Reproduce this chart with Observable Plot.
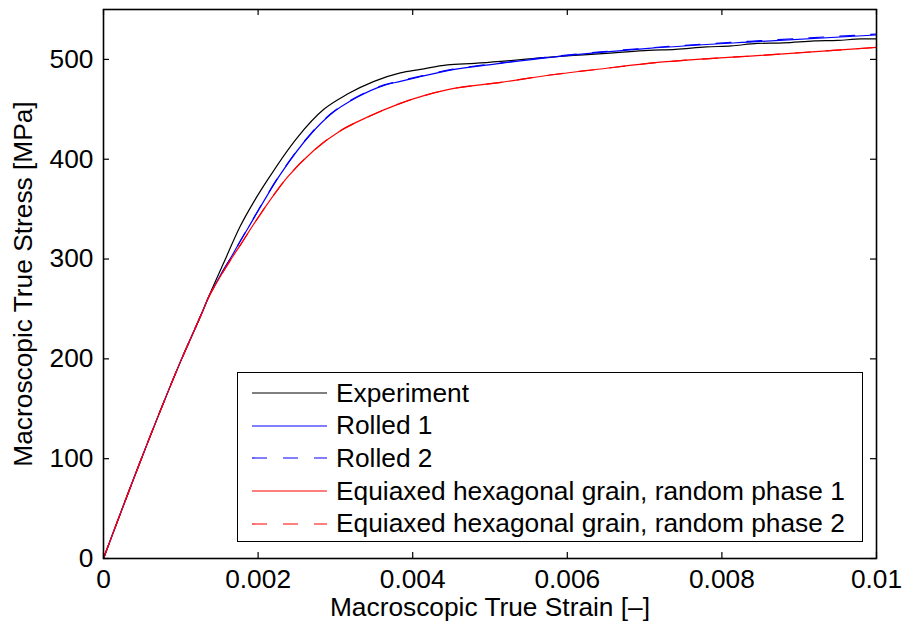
<!DOCTYPE html>
<html>
<head>
<meta charset="utf-8">
<script src="https://cdn.jsdelivr.net/npm/d3@7"></script>
<script src="https://cdn.jsdelivr.net/npm/@observablehq/plot@0.6"></script>
<style>
  html, body { margin: 0; padding: 0; background: #fff; }
  #wrap { position: relative; width: 904px; height: 632px; font-family: "Liberation Sans", Arial, Helvetica, sans-serif; }
  #legend { position: absolute; left: 237px; top: 372px; width: 624px; height: 168px; border: 1.5px solid #000; background: #fff; }
  .row { position: absolute; left: 0; height: 32px; display: flex; align-items: center; font-size: 26.3px; color: #000; white-space: nowrap; }
  .row svg { margin-left: 14px; margin-right: 9px; }
</style>
</head>
<body>
<div id="wrap"></div>
<script>
// ---- data ----
const seriesNames = ["Experiment", "Rolled 1", "Rolled 2",
  "Equiaxed hexagonal grain, random phase 1", "Equiaxed hexagonal grain, random phase 2"];
const seriesColors = ["#000000", "#0000ff", "#0000ff", "#ff0000", "#ff0000"];
const seriesDash = [null, null, "15,16", null, "15,16"];

const expStrain = [0, 0.0005, 0.001, 0.0013, 0.00134, 0.00156, 0.00177, 0.00195, 0.00212, 0.00251, 0.00285, 0.00315, 0.0035, 0.00384,
  0.0041, 0.00445, 0.0048, 0.00514, 0.0055, 0.0059, 0.00621, 0.0066, 0.00705, 0.0074, 0.0078, 0.00812, 0.00846,
  0.0088, 0.0092, 0.0095, 0.0098, 0.01];
const expStress = [0, 102, 198, 251, 258.5, 297, 333, 358, 379, 422, 450, 465, 478, 486.5,
  490, 494.5, 496, 498, 500.5, 503, 504.5, 506.5, 509, 510, 512.5, 513.5, 516,
  516.5, 518.5, 519, 520.5, 520.5];

const rolled1Strain = [0, 0.0005, 0.001, 0.0013, 0.00134, 0.0015, 0.00166, 0.00177, 0.0019, 0.00229, 0.00268, 0.00294, 0.00328, 0.00363,
  0.00384, 0.00406, 0.00447, 0.00514, 0.00578, 0.00643, 0.00705, 0.0085, 0.01];
const rolled1Stress = [0, 102, 198, 251, 258.5, 282, 303, 318, 335, 385, 425, 445, 462, 474,
  478, 482, 489, 496, 502, 507, 511, 518, 524.5];

const rolled2Strain = [0, 0.0005, 0.001, 0.0013, 0.00134, 0.0015, 0.00166, 0.00177, 0.0019, 0.00229, 0.00268, 0.00294, 0.00328, 0.00363,
  0.00384, 0.00406, 0.00447, 0.00514, 0.00578, 0.00643, 0.00705, 0.0085, 0.01];
const rolled2Stress = [0, 102, 198, 251, 258.5, 282, 303, 318, 335.5, 385.5, 425.5, 445.5, 462.5, 474.5,
  478.5, 482.5, 489.5, 496.5, 502.5, 507.5, 511.5, 518.8, 525.3];

const equi1Strain = [0, 0.0005, 0.001, 0.0013, 0.00134, 0.0015, 0.00166, 0.00177, 0.00197, 0.00238, 0.00272, 0.00307, 0.00341, 0.00384,
  0.00447, 0.00514, 0.00578, 0.00643, 0.00705, 0.0085, 0.01];
const equi1Stress = [0, 102, 198, 251, 258.5, 281, 301, 314, 338, 382, 408.7, 428.7, 442, 456,
  470, 477, 484.4, 490.4, 496, 504, 512];

const equi2Strain = [0, 0.0005, 0.001, 0.0013, 0.00134, 0.0015, 0.00166, 0.00177, 0.00197, 0.00238, 0.00272, 0.00307, 0.00341, 0.00384,
  0.00447, 0.00514, 0.00578, 0.00643, 0.00705, 0.0085, 0.01];
const equi2Stress = [0, 102, 198, 251, 258.5, 281, 301, 314, 338, 382, 408.7, 428.7, 442, 456,
  470, 477, 484.4, 490.4, 496, 504, 512];

const xTicks = [0, 0.002, 0.004, 0.006, 0.008, 0.01];
const xTickLabels = ["0", "0.002", "0.004", "0.006", "0.008", "0.01"];
const yTicks = [0, 100, 200, 300, 400, 500];
const yTickLabels = ["0", "100", "200", "300", "400", "500"];
const xLabel = "Macroscopic True Strain [\u2013]";
const yLabel = "Macroscopic True Stress [MPa]";

// ---- build table ----
const strains = [expStrain, rolled1Strain, rolled2Strain, equi1Strain, equi2Strain];
const stresses = [expStress, rolled1Stress, rolled2Stress, equi1Stress, equi2Stress];
const series = strains.map((s, k) => s.map((x, i) => ({x, y: stresses[k][i], k})));

const W = 904, H = 632, mL = 103, mR = 28, mT = 9, mB = 74;
const plotW = W - mL - mR, plotH = H - mT - mB;
const tickLen = 6;
const font = 26.3;

const lineMarks = series.map((data, k) => Plot.line(data, {
  x: "x", y: "y", stroke: seriesColors[k], strokeWidth: 1.2,
  strokeDasharray: seriesDash[k] || undefined, curve: "monotone-x"
}));

const chart = Plot.plot({
  width: W, height: H,
  marginLeft: mL, marginRight: mR, marginTop: mT, marginBottom: mB,
  x: {domain: [0, 0.01], label: null},
  y: {domain: [0, 550], label: null},
  style: {fontFamily: '"Liberation Sans", Arial, Helvetica, sans-serif', fontSize: font + "px", color: "#000", background: "#fff"},
  marks: [
    ...lineMarks,
    Plot.ruleX(xTicks, {x: d => d, insetTop: plotH - tickLen, stroke: "#000", strokeWidth: 1.2}),
    Plot.ruleX(xTicks, {x: d => d, insetBottom: plotH - tickLen, stroke: "#000", strokeWidth: 1.2}),
    Plot.ruleY(yTicks, {y: d => d, insetRight: plotW - tickLen, stroke: "#000", strokeWidth: 1.2}),
    Plot.ruleY(yTicks, {y: d => d, insetLeft: plotW - tickLen, stroke: "#000", strokeWidth: 1.2}),
    Plot.frame({stroke: "#000", strokeWidth: 1.6}),
    Plot.axisX(xTicks, {tickSize: 0, tickPadding: 11, fontSize: font, label: null,
      tickFormat: d => xTickLabels[xTicks.indexOf(d)]}),
    Plot.axisY(yTicks, {tickSize: 0, tickPadding: 10, fontSize: font, label: null,
      tickFormat: d => yTickLabels[yTicks.indexOf(d)]}),
    Plot.text([xLabel], {text: d => d, frameAnchor: "bottom", lineAnchor: "middle", dy: 49, fontSize: font}),
    Plot.text([yLabel], {text: d => d, frameAnchor: "left", textAnchor: "middle", lineAnchor: "middle", rotate: -90, dx: -80, fontSize: font})
  ]
});

const wrap = document.getElementById("wrap");
wrap.appendChild(chart);

// ---- legend ----
const legend = document.createElement("div");
legend.id = "legend";
seriesNames.forEach((name, k) => {
  const row = document.createElement("div");
  row.className = "row";
  row.style.top = (4 + k * 32.7) + "px";
  const dash = seriesDash[k] ? ` stroke-dasharray="${seriesDash[k]}"` : "";
  row.innerHTML = `<svg width="75" height="10"><line x1="0" y1="5" x2="75" y2="5" stroke="${seriesColors[k]}" stroke-width="1.2"${dash}/></svg><span>${name}</span>`;
  legend.appendChild(row);
});
wrap.appendChild(legend);
</script>
</body>
</html>
